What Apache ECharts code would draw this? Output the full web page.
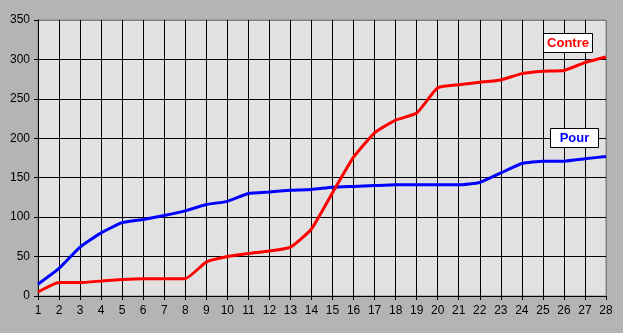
<!DOCTYPE html>
<html>
<head>
<meta charset="utf-8">
<script src="https://cdn.jsdelivr.net/npm/echarts@6/dist/echarts.min.js"></script>
<style>
html,body{margin:0;padding:0;background:#b4b4b4;}
#main{width:623px;height:333px;}
</style>
</head>
<body>
<div id="main"></div>
<script>
const categories = ['1','2','3','4','5','6','7','8','9','10','11','12','13','14','15','16','17','18','19','20','21','22','23','24','25','26','27','28'];
const pour = [15,35,62,80,93,97,102,108,116,120,130,132,134,135,138,139,140,141,141,141,141,144,156,168,171,171,174,177];
const contre = [5,17,17,19,21,22,22,22,43,50,54,57,62,85,131,176,207,223,232,264,268,271,274,282,285,286,296,303];
const yTicks = [0,50,100,150,200,250,300,350];

const chart = echarts.init(document.getElementById('main'));
const gridLeft = 38, gridRight = 17, gridTop = 20, gridBottom = 37;
const black = '#000000', grey = '#808080';
function legendBox(x, y, w, h, text, color) {
  return [
    {type: 'rect', z: 100, zlevel: 0, shape: {x: x + 0.5, y: y + 0.5, width: w, height: h},
     style: {fill: '#ffffff', stroke: '#000000', lineWidth: 1}},
    {type: 'text', z: 101, zlevel: 0, x: x + w / 2 + 0.5, y: y + h / 2 + 1,
     style: {text: text, fill: color, fontSize: 13, fontWeight: 'bold',
             fontFamily: 'Liberation Sans', align: 'center', verticalAlign: 'middle'}}
  ];
}
chart.setOption({
  backgroundColor: '#b4b4b4',
  animation: false,
  textStyle: {fontFamily: 'Liberation Sans'},
  grid: {left: gridLeft, right: gridRight, top: gridTop, bottom: gridBottom, show: true,
         backgroundColor: '#e1e1e1', borderColor: grey, borderWidth: 1},
  xAxis: {
    type: 'category', data: categories, boundaryGap: false,
    axisLine: {lineStyle: {color: black, width: 1}},
    axisTick: {show: true, length: 4, lineStyle: {color: black}},
    axisLabel: {color: '#000', fontSize: 12, margin: 9, interval: 0},
    splitLine: {show: true, lineStyle: {color: categories.map((c, i) => i === categories.length - 1 ? grey : black), width: 1}}
  },
  yAxis: {
    type: 'value', min: yTicks[0], max: yTicks[yTicks.length - 1], interval: 50,
    axisLine: {show: true, lineStyle: {color: black, width: 1}},
    axisTick: {show: true, length: 4, lineStyle: {color: black}},
    axisLabel: {color: '#000', fontSize: 12, margin: 8},
    splitLine: {show: true, lineStyle: {color: yTicks.map((t, i) => i === yTicks.length - 1 ? grey : black), width: 1}}
  },
  series: [
    {name: 'Pour', type: 'line', data: pour, smooth: 0.15, symbol: 'none',
     lineStyle: {color: '#0000ff', width: 3}, itemStyle: {color: '#0000ff'}, z: 3},
    {name: 'Contre', type: 'line', data: contre, smooth: 0.15, symbol: 'none',
     lineStyle: {color: '#ff0000', width: 3}, itemStyle: {color: '#ff0000'}, z: 4}
  ],
  graphic: [].concat(
    legendBox(543, 33, 49, 19, 'Contre', '#ff0000'),
    legendBox(550, 128, 48, 19, 'Pour', '#0000ff')
  )
});
</script>
</body>
</html>
